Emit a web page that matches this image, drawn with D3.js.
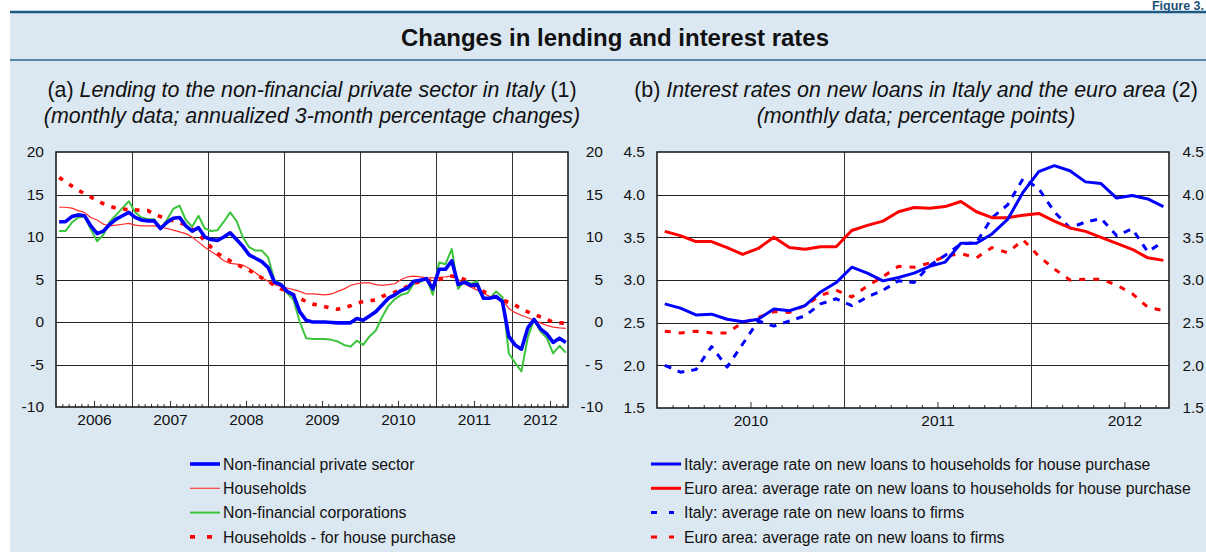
<!DOCTYPE html>
<html>
<head>
<meta charset="utf-8">
<script src="https://cdn.jsdelivr.net/npm/d3@7"></script>
<style>
  body { margin: 0; background: #fff; }
  svg { display: block; font-family: "Liberation Sans", Arial, Helvetica, sans-serif; }
</style>
</head>
<body>
<div id="chart"></div>
<script>
// ---- panel (a): monthly, Jan 2006 - Sep 2012 ----
const yearsA = [2006, 2007, 2008, 2009, 2010, 2011, 2012];
const ticksA = [-10, -5, 0, 5, 10, 15, 20];
const rightLabelsA = ['-10', '- 5', '0', '5', '10', '15', '20'];

const nfPrivate = [11.8,11.8,12.4,12.6,12.5,11.3,10.4,10.7,11.5,12.1,12.5,12.9,
  12.3,12.0,11.9,11.9,11.0,11.7,12.2,12.3,11.3,10.7,11.1,10.0,
  9.7,9.6,10.0,10.5,9.7,8.9,7.9,7.5,7.1,6.4,4.7,4.4,
  3.6,3.2,1.2,0.2,0.0,0.0,0.0,-0.05,-0.1,-0.1,-0.1,0.4,
  0.2,0.7,1.2,2.0,2.8,3.2,3.7,4.0,4.8,4.9,5.1,3.9,
  6.2,6.2,7.2,4.4,4.7,4.3,4.4,2.8,2.8,3.0,2.4,-1.7,
  -2.7,-3.2,-0.7,0.3,-0.8,-1.4,-2.4,-1.9,-2.4];
const households = [13.5,13.5,13.4,13.1,12.9,12.3,12.0,11.5,11.3,11.4,11.5,11.6,
  11.4,11.3,11.3,11.3,11.2,11.0,10.8,10.6,10.4,10.0,9.4,8.8,
  8.3,7.8,7.2,6.9,6.8,6.7,6.3,5.8,5.2,4.8,4.4,4.2,
  4.0,3.8,3.6,3.3,3.3,3.25,3.2,3.3,3.6,3.9,4.3,4.5,
  4.6,4.6,4.4,4.3,4.4,4.5,5.0,5.3,5.4,5.3,5.2,5.2,
  5.25,5.3,5.4,5.0,4.5,4.1,3.75,3.4,3.0,2.8,2.6,1.6,
  1.1,0.8,0.5,0.2,-0.1,-0.4,-0.6,-0.7,-0.75];
const nfCorps = [10.7,10.7,11.7,12.3,12.4,10.9,9.5,10.3,11.8,12.6,13.4,14.2,
  12.9,12.3,12.1,12.1,11.0,12.0,13.3,13.7,12.0,11.2,12.5,11.0,
  10.7,10.8,11.8,12.9,11.9,10.0,8.8,8.4,8.4,7.6,4.9,4.5,
  3.4,2.6,0.0,-1.9,-2.0,-2.0,-2.0,-2.1,-2.3,-2.7,-2.9,-2.2,
  -2.7,-1.7,-1.0,0.6,1.9,2.7,3.2,3.4,4.5,4.7,5.2,3.2,
  7.0,6.8,8.6,3.9,4.9,4.5,4.8,2.7,2.8,3.6,2.9,-3.7,
  -4.8,-5.8,-1.8,0.3,-1.1,-1.9,-3.7,-2.8,-3.6];
const hhHouse = [17.0,16.5,16.0,15.5,15.1,14.7,14.3,13.9,13.6,13.4,13.3,13.2,
  13.2,13.1,13.1,12.7,12.4,12.1,11.9,11.7,11.4,10.9,10.3,9.6,
  8.8,8.1,7.6,7.2,6.8,6.4,6.1,5.6,5.2,4.8,4.3,3.9,
  3.6,3.2,2.8,2.4,2.1,2.0,1.8,1.6,1.5,1.7,1.9,2.2,
  2.4,2.5,2.6,3.0,3.3,3.5,3.8,4.2,4.6,4.7,4.8,4.9,
  5.0,5.2,5.4,5.3,5.0,4.6,4.0,3.6,3.2,2.9,2.6,2.3,
  2.0,1.5,1.2,0.9,0.6,0.3,0.0,-0.1,-0.15];

// ---- panel (b): monthly, Jan 2010 - Sep 2012 ----
const yearsB = [2010, 2011, 2012];
const ticksB = [1.5, 2.0, 2.5, 3.0, 3.5, 4.0, 4.5];

const itHouse = [2.72,2.67,2.59,2.60,2.54,2.51,2.54,2.66,2.64,2.70,2.86,2.97,
  3.15,3.08,2.99,3.03,3.08,3.16,3.21,3.43,3.43,3.54,3.71,4.03,
  4.27,4.34,4.28,4.15,4.13,3.96,3.99,3.95,3.86];
const euHouse = [3.57,3.52,3.45,3.45,3.38,3.30,3.37,3.50,3.38,3.36,3.39,3.39,
  3.58,3.64,3.69,3.80,3.85,3.84,3.86,3.92,3.80,3.73,3.73,3.76,
  3.78,3.69,3.61,3.57,3.50,3.43,3.36,3.26,3.23];
const itFirms = [2.00,1.92,1.95,2.22,1.98,2.25,2.52,2.46,2.52,2.58,2.72,2.78,
  2.70,2.80,2.88,2.99,2.97,3.17,3.29,3.42,3.44,3.73,3.88,4.19,
  4.07,3.80,3.61,3.68,3.72,3.52,3.60,3.33,3.45];
const euFirms = [2.40,2.38,2.40,2.38,2.38,2.50,2.56,2.63,2.62,2.70,2.82,2.88,
  2.80,2.93,3.04,3.16,3.15,3.20,3.28,3.31,3.26,3.38,3.32,3.47,
  3.28,3.13,3.00,3.01,3.01,2.94,2.84,2.68,2.64];

const width = 1206, height = 552;
const panelFill = '#dce8f1';

const svg = d3.select('#chart')
  .append('svg')
  .attr('width', width)
  .attr('height', height);

// frame
svg.append('rect').attr('x', 10).attr('y', 12).attr('width', width - 10).attr('height', height - 12).attr('fill', panelFill);
svg.append('line').attr('x1', 10).attr('x2', width).attr('y1', 12).attr('y2', 12)
  .attr('stroke', '#1d5b86').attr('stroke-width', 2.5);
svg.append('line').attr('x1', 10).attr('x2', width).attr('y1', 60).attr('y2', 60)
  .attr('stroke', '#2d6890').attr('stroke-width', 1.5);
svg.append('text').text('Figure 3.')
  .attr('x', 1204).attr('y', 10).attr('text-anchor', 'end')
  .attr('font-size', 12.5).attr('font-weight', 'bold').attr('fill', '#1b5079');

svg.append('text').text('Changes in lending and interest rates')
  .attr('x', 615).attr('y', 46).attr('text-anchor', 'middle')
  .attr('font-size', 24).attr('font-weight', 'bold').attr('fill', '#111');

const subtitle = (cx, parts, line2) => {
  const t = svg.append('text').attr('x', cx).attr('y', 97)
    .attr('text-anchor', 'middle').attr('font-size', 21.4).attr('fill', '#111');
  parts.forEach(p => t.append('tspan').text(p[0]).attr('font-style', p[1] ? 'italic' : 'normal'));
  svg.append('text').text(line2).attr('x', cx).attr('y', 123)
    .attr('text-anchor', 'middle').attr('font-size', 21.4).attr('font-style', 'italic').attr('fill', '#111');
};
subtitle(312, [['(a) ', false], ['Lending to the non-financial private sector in Italy', true], [' (1)', false]],
  '(monthly data; annualized 3-month percentage changes)');
subtitle(916, [['(b) ', false], ['Interest rates on new loans in Italy and the euro area', true], [' (2)', false]],
  '(monthly data; percentage points)');

const drawPanel = (cfg) => {
  const x = d3.scaleLinear().domain([0, cfg.monthsEnd]).range([cfg.left, cfg.right]);
  const y = d3.scaleLinear().domain(d3.extent(cfg.yTicks)).range([cfg.bottom, cfg.top]);
  const g = svg.append('g');

  g.append('rect')
    .attr('x', cfg.left).attr('y', cfg.top)
    .attr('width', cfg.right - cfg.left).attr('height', cfg.bottom - cfg.top)
    .attr('fill', '#fff');

  // horizontal grid
  g.append('g').selectAll('line')
    .data(cfg.yTicks.slice(1, -1))
    .join('line')
      .attr('x1', cfg.left).attr('x2', cfg.right)
      .attr('y1', d => Math.round(y(d)) + 0.5).attr('y2', d => Math.round(y(d)) + 0.5)
      .attr('stroke', '#222').attr('stroke-width', 1);

  // year boundaries
  const yearStarts = cfg.years.slice(1).map((d, i) => (i + 1) * 12);
  g.append('g').selectAll('line')
    .data(yearStarts)
    .join('line')
      .attr('x1', d => Math.round(x(d)) + 0.5).attr('x2', d => Math.round(x(d)) + 0.5)
      .attr('y1', cfg.top).attr('y2', cfg.bottom)
      .attr('stroke', '#333').attr('stroke-width', 1);

  // month ticks, pointing inward
  const months = d3.range(1, Math.floor(cfg.monthsEnd) + 1).filter(m => m % 12 !== 0);
  g.append('g')
    .attr('transform', `translate(0, ${cfg.bottom})`)
    .call(d3.axisBottom(x).tickValues(months.filter(m => m % 12 !== 6)).tickSizeInner(-3).tickSizeOuter(0).tickFormat(''))
    .call(a => a.select('.domain').remove())
    .call(a => a.selectAll('line').attr('stroke', '#333'));
  g.append('g')
    .attr('transform', `translate(0, ${cfg.bottom})`)
    .call(d3.axisBottom(x).tickValues(months.filter(m => m % 12 === 6)).tickSizeInner(-6).tickSizeOuter(0).tickFormat(''))
    .call(a => a.select('.domain').remove())
    .call(a => a.selectAll('line').attr('stroke', '#333'));

  // series
  const line = d3.line().x((d, i) => x(i + 0.5)).y(d => y(d));
  cfg.series.forEach(s => {
    g.append('path')
      .datum(s.values)
      .attr('d', line)
      .attr('fill', 'none')
      .attr('stroke', s.color)
      .attr('stroke-width', s.width)
      .attr('stroke-dasharray', s.dash || null)
      .attr('stroke-linejoin', 'round');
  });

  // plot border
  g.append('rect')
    .attr('x', cfg.left).attr('y', cfg.top)
    .attr('width', cfg.right - cfg.left).attr('height', cfg.bottom - cfg.top)
    .attr('fill', 'none').attr('stroke', '#111').attr('stroke-width', 1.5);

  // y labels
  g.append('g')
    .attr('transform', `translate(${cfg.left}, 0)`)
    .call(d3.axisLeft(y).tickValues(cfg.yTicks).tickSize(0).tickPadding(12).tickFormat(cfg.leftFormat))
    .call(a => a.select('.domain').remove())
    .call(a => a.selectAll('text').attr('font-size', 15.5).attr('font-family', null).attr('fill', '#111'));
  g.append('g')
    .attr('transform', `translate(${cfg.right}, 0)`)
    .call(d3.axisRight(y).tickValues(cfg.yTicks).tickSize(0).tickFormat(cfg.rightFormat))
    .call(a => a.select('.domain').remove())
    .call(a => a.selectAll('text').attr('x', 35).attr('text-anchor', 'end')
      .attr('font-size', 15.5).attr('font-family', null).attr('fill', '#111'));

  // year labels
  const labelPos = cfg.years.map((yr, i) => {
    const start = i * 12, end = Math.min(start + 12, cfg.monthsEnd);
    return cfg.centerPartial ? (start + end) / 2 : start + 6;
  });
  g.append('g')
    .attr('transform', `translate(0, ${cfg.bottom})`)
    .call(d3.axisBottom(x).tickValues(labelPos).tickSize(0).tickPadding(7)
      .tickFormat((d, i) => cfg.years[i]))
    .call(a => a.select('.domain').remove())
    .call(a => a.selectAll('text').attr('font-size', 15.5).attr('font-family', null).attr('fill', '#111'));
};

drawPanel({
  left: 56, right: 568, top: 152, bottom: 407,
  monthsEnd: 80.85,
  years: yearsA,
  yTicks: ticksA,
  centerPartial: true,
  leftFormat: d => d,
  rightFormat: (d, i) => rightLabelsA[i],
  series: [
    { values: households, color: '#ff2a2a', width: 1.2 },
    { values: nfCorps, color: '#3cc43c', width: 2 },
    { values: hhHouse, color: '#ff0000', width: 3.6, dash: '4.5,7.5' },
    { values: nfPrivate, color: '#0000ff', width: 3.6 }
  ]
});

drawPanel({
  left: 657, right: 1169, top: 152, bottom: 408,
  monthsEnd: 32.86,
  years: yearsB,
  yTicks: ticksB,
  centerPartial: false,
  leftFormat: d3.format('.1f'),
  rightFormat: d3.format('.1f'),
  series: [
    { values: euFirms, color: '#ff0000', width: 3, dash: '6,8' },
    { values: itFirms, color: '#0000ff', width: 3, dash: '7,7' },
    { values: euHouse, color: '#ff0000', width: 3 },
    { values: itHouse, color: '#0000ff', width: 3 }
  ]
});

// legends
const legendA = [
  { name: 'Non-financial private sector', color: '#0000ff', width: 3.6 },
  { name: 'Households', color: '#ff4040', width: 1.2 },
  { name: 'Non-financial corporations', color: '#3cc43c', width: 2 },
  { name: 'Households - for house purchase', color: '#ff0000', width: 3.6, dash: '5,12' }
];
const legendB = [
  { name: 'Italy: average rate on new loans to households for house purchase', color: '#0000ff', width: 3 },
  { name: 'Euro area: average rate on new loans to households for house purchase', color: '#ff0000', width: 3 },
  { name: 'Italy: average rate on new loans to firms', color: '#0000ff', width: 3, dash: '6,12' },
  { name: 'Euro area: average rate on new loans to firms', color: '#ff0000', width: 3, dash: '6,12' }
];

const drawLegend = (items, x0) => {
  const lg = svg.append('g').attr('transform', `translate(${x0}, 464)`);
  lg.selectAll('line')
    .data(items)
    .join('line')
      .attr('x1', 0).attr('x2', d => d.dash ? 23 : 30)
      .attr('y1', (d, i) => i * 24.3).attr('y2', (d, i) => i * 24.3)
      .attr('stroke', d => d.color)
      .attr('stroke-width', d => d.width)
      .attr('stroke-dasharray', d => d.dash || null);
  lg.selectAll('text')
    .data(items)
    .join('text')
      .attr('x', 33)
      .attr('y', (d, i) => i * 24.3 + 5.6)
      .attr('font-size', 15.8)
      .attr('fill', '#111')
      .text(d => d.name);
};
drawLegend(legendA, 190);
drawLegend(legendB, 651);
</script>
</body>
</html>
